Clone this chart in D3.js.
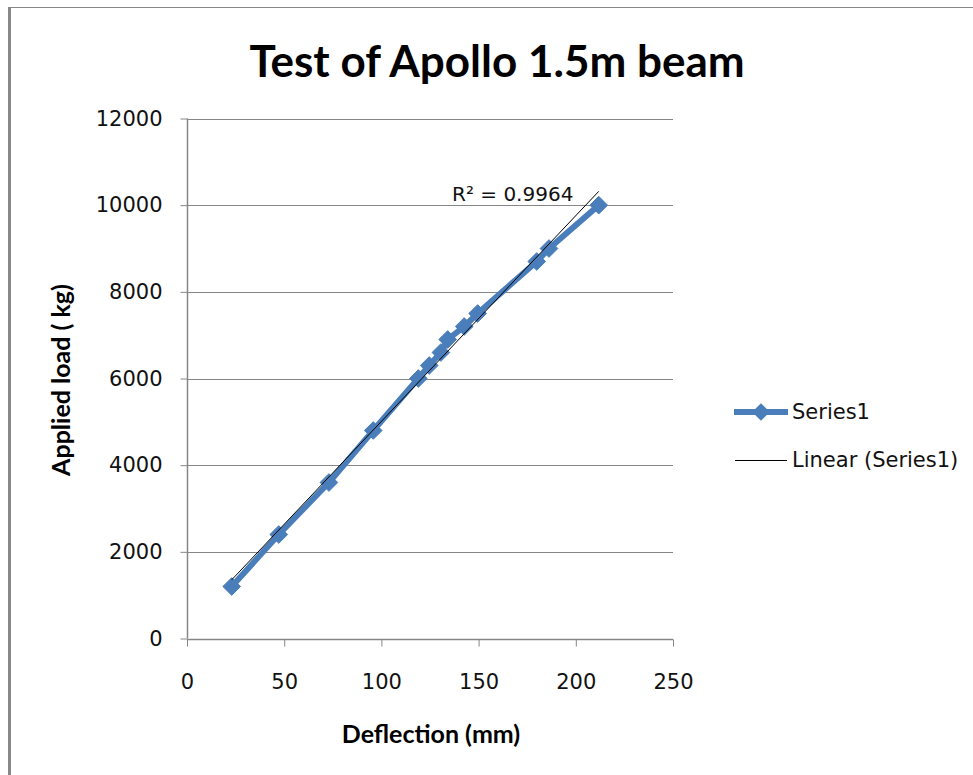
<!DOCTYPE html>
<html>
<head>
<meta charset="utf-8">
<script src="https://cdn.jsdelivr.net/npm/d3@7"></script>
<style>
  html, body { margin: 0; padding: 0; background: #fff; }
  svg { display: block; }
</style>
</head>
<body>
<script>
// ---- data ----
const deflection = [23.0, 47.2, 73.0, 95.8, 119.0, 124.6, 130.6, 134.1, 142.6, 149.5, 179.9, 186.2, 211.8];
const load = [1200, 2400, 3600, 4800, 6000, 6300, 6600, 6900, 7200, 7500, 8700, 9000, 10000];
const xTicks = [0, 50, 100, 150, 200, 250];
const yTicks = [0, 2000, 4000, 6000, 8000, 10000, 12000];
const titleText = "Test of Apollo 1.5m beam";
const xTitle = "Deflection (mm)";
const yTitle = "Applied load ( kg)";
const seriesName = "Series1";
const trendName = "Linear (Series1)";
const r2Label = "R\u00B2 = 0.9964";

const W = 973, H = 775;
const blue = "#4a7ebb";
const gridCol = "#868686";
const font = "'DejaVu Sans', 'Open Sans', sans-serif";
const boldFont = "Lato, 'Open Sans', sans-serif";

const svg = d3.select("body").append("svg").attr("width", W).attr("height", H);

// outer frame (top + left edges visible)
svg.append("line").attr("x1", 8).attr("x2", W).attr("y1", 7.5).attr("y2", 7.5)
  .attr("stroke", "#888").attr("stroke-width", 1);
svg.append("line").attr("x1", 9.5).attr("x2", 9.5).attr("y1", 7).attr("y2", H)
  .attr("stroke", "#888").attr("stroke-width", 3);

const x = d3.scaleLinear().domain([0, 250]).range([187, 673]);
const y = d3.scaleLinear().domain([0, 12000]).range([638.5, 118.5]);

// gridlines
svg.append("g").selectAll("line").data(yTicks.filter(d => d > 0)).join("line")
  .attr("x1", x(0)).attr("x2", x(250))
  .attr("y1", d => Math.round(y(d)) + 0.5).attr("y2", d => Math.round(y(d)) + 0.5)
  .attr("stroke", gridCol).attr("stroke-width", 1);

// axes
const xAxis = svg.append("g").attr("transform", `translate(0,${Math.round(y(0)) + 0.5})`)
  .call(d3.axisBottom(x).tickValues(xTicks).tickSize(7).tickPadding(28).tickFormat(d3.format("d")));
const yAxis = svg.append("g").attr("transform", `translate(${Math.round(x(0)) + 0.5},0)`)
  .call(d3.axisLeft(y).tickValues(yTicks).tickSize(7).tickPadding(18).tickFormat(d3.format("d")));
[xAxis, yAxis].forEach(g => {
  g.select(".domain").attr("stroke", gridCol).attr("stroke-width", 1.5);
  g.selectAll(".tick line").attr("stroke", gridCol).attr("stroke-width", 1);
  g.selectAll(".tick text").attr("font-family", font).attr("font-size", 21).attr("fill", "#111");
});
xAxis.select(".domain").attr("d", `M${x(0)},0H${x(250)}`);
yAxis.select(".domain").attr("d", `M0,${y(0)}V${y(12000)}`);

// series line + markers
const pts = deflection.map((d, i) => [d, load[i]]);
svg.append("path").datum(pts)
  .attr("d", d3.line().x(d => x(d[0])).y(d => y(d[1])))
  .attr("fill", "none").attr("stroke", blue).attr("stroke-width", 6)
  .attr("stroke-linejoin", "round");
const diamond = d3.symbol().type(d3.symbolDiamond2).size(200);
svg.append("g").selectAll("path").data(pts).join("path")
  .attr("transform", d => `translate(${x(d[0])},${y(d[1])})`)
  .attr("d", diamond).attr("fill", blue).attr("stroke", blue).attr("stroke-width", 1);

// linear trendline (least squares)
const mx = d3.mean(deflection), my = d3.mean(load);
const sxy = d3.sum(pts, d => (d[0] - mx) * (d[1] - my));
const sxx = d3.sum(pts, d => (d[0] - mx) ** 2);
const slope = sxy / sxx, intercept = my - slope * mx;
const xmin = d3.min(deflection), xmax = d3.max(deflection);
svg.append("line")
  .attr("x1", x(xmin)).attr("y1", y(intercept + slope * xmin))
  .attr("x2", x(xmax)).attr("y2", y(intercept + slope * xmax))
  .attr("stroke", "#000").attr("stroke-width", 1);

// R² label
svg.append("text").attr("x", 452).attr("y", 201)
  .attr("font-family", font).attr("font-size", 20).attr("fill", "#111").text(r2Label);

// title
svg.append("text").attr("x", 497).attr("y", 77).attr("text-anchor", "middle")
  .attr("font-family", boldFont).attr("font-weight", "bold")
  .attr("font-size", 44).attr("fill", "#000").text(titleText);

// axis titles
svg.append("text").attr("x", 431).attr("y", 743).attr("text-anchor", "middle")
  .attr("font-family", boldFont).attr("font-weight", "bold")
  .attr("font-size", 25).attr("fill", "#000").text(xTitle);
svg.append("text").attr("transform", "translate(70,380) rotate(-90)").attr("text-anchor", "middle")
  .attr("font-family", boldFont).attr("font-weight", "bold")
  .attr("font-size", 25).attr("fill", "#000").text(yTitle);

// legend
const lg = svg.append("g");
lg.append("line").attr("x1", 734).attr("x2", 788).attr("y1", 412).attr("y2", 412)
  .attr("stroke", blue).attr("stroke-width", 6);
lg.append("path").attr("transform", "translate(761,412)").attr("d", diamond).attr("fill", blue);
lg.append("text").attr("x", 792).attr("y", 419).attr("font-family", font).attr("font-size", 21)
  .attr("fill", "#111").text(seriesName);
lg.append("line").attr("x1", 735).attr("x2", 787).attr("y1", 460.5).attr("y2", 460.5)
  .attr("stroke", "#000").attr("stroke-width", 1);
lg.append("text").attr("x", 792).attr("y", 467).attr("font-family", font).attr("font-size", 21)
  .attr("fill", "#111").text(trendName);
</script>
</body>
</html>
